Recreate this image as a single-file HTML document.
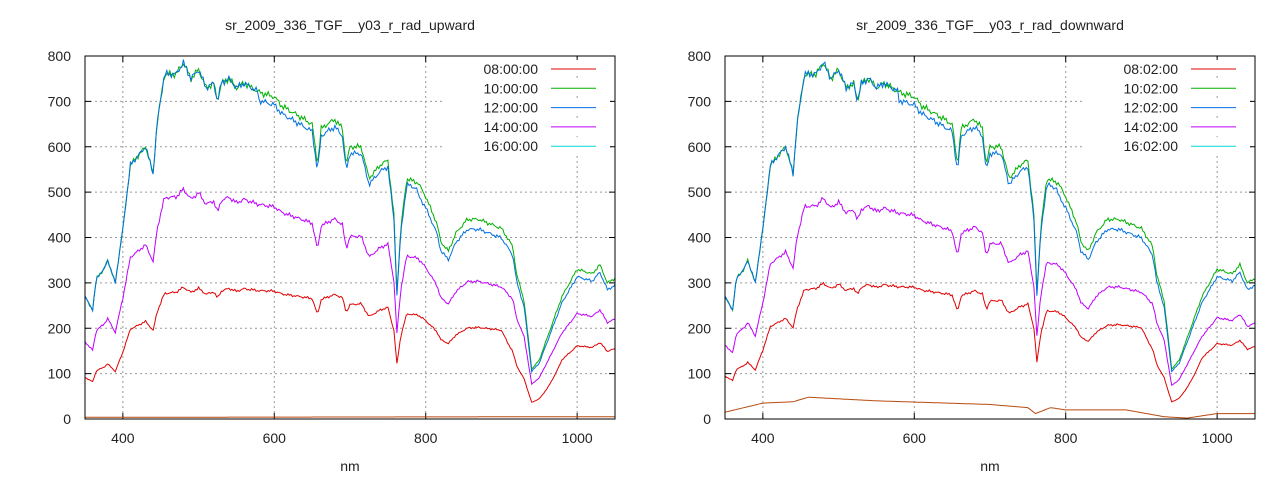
<!DOCTYPE html><html><head><meta charset="utf-8"><style>body{margin:0;background:#fff}svg{display:block;font-family:"Liberation Sans",sans-serif}</style></head><body>
<svg id="s" width="1280" height="480" xmlns="http://www.w3.org/2000/svg"></svg>
<script>
const S=document.getElementById('s');let h='';
const G=[[350,270],[360,240],[365,310],[375,330],[380,350],[390,300],[400,420],[410,560],[420,580],[430,600],[437,560],[440,540],[445,650],[455,760],[470,760],[480,785],[490,750],[500,770],[510,730],[520,740],[525,700],[530,740],[540,750],[550,730],[560,740],[580,720],[600,710],[610,690],[620,680],[640,660],[650,650],[657,560],[662,640],[670,650],[680,660],[690,640],[695,560],[700,600],[715,600],[725,530],[740,560],[750,570],[758,450],[762,280],[767,420],[775,530],[790,520],[800,490],[815,430],[820,390],[830,370],[840,410],[855,440],[870,440],[900,420],[915,380],[920,320],[930,260],[940,110],[950,130],[965,200],[980,270],[1000,330],[1020,320],[1030,340],[1040,300],[1050,310]];
function g(n){for(let i=0;i<G.length-1;i++){if(n<=G[i+1][0]){const t=(n-G[i][0])/(G[i+1][0]-G[i][0]);return G[i][1]+t*(G[i+1][1]-G[i][1]);}}return 310;}
function noise(n,k){return Math.sin(n*1.7+k)*0.006+Math.sin(n*0.53+k*2)*0.005;}
function bot(n,right){if(!right)return 3+n*0.002;const K=[[350,15],[400,35],[440,38],[460,48],[550,40],[700,32],[750,25],[760,12],[780,25],[800,20],[880,20],[930,5],[960,2],[1000,12],[1050,12]];for(let i=0;i<K.length-1;i++)if(n<=K[i+1][0]){const t=(n-K[i][0])/(K[i+1][0]-K[i][0]);return K[i][1]+t*(K[i+1][1]-K[i][1]);}return 12;}
function redf(n){let f=0.34+0.16*(n-350)/700;if(n>900&&n<980)f*=1-0.3*Math.sin((n-900)/80*Math.PI);return f;}
function panel(x0,title,lab,right){const W=530,H=363,y0=56;const X=n=>x0+(n-350)*W/700,Y=v=>y0+H-v*H/800;
h+=`<text x="${x0+265}" y="30" font-size="14" text-anchor="middle" fill="#222">${title}</text>`;
h+=`<text x="${x0+265}" y="471" font-size="14" text-anchor="middle" fill="#222">nm</text>`;
for(let v=0;v<=800;v+=100){const y=Y(v);if(v>0&&v<800)h+=`<line x1="${x0}" x2="${x0+W}" y1="${y}" y2="${y}" stroke="#999" stroke-dasharray="2,3"/>`;h+=`<line x1="${x0}" x2="${x0+6}" y1="${y}" y2="${y}" stroke="#000"/><line x1="${x0+W-6}" x2="${x0+W}" y1="${y}" y2="${y}" stroke="#000"/><text x="${x0-14}" y="${y+5}" font-size="14" text-anchor="end" fill="#222">${v}</text>`;}
for(let n=400;n<=1000;n+=200){const x=X(n);h+=`<line x1="${x}" x2="${x}" y1="${y0}" y2="${y0+H}" stroke="#999" stroke-dasharray="2,3"/><line x1="${x}" x2="${x}" y1="${y0+H}" y2="${y0+H-6}" stroke="#000"/><line x1="${x}" x2="${x}" y1="${y0}" y2="${y0+6}" stroke="#000"/><text x="${x}" y="${y0+H+24}" font-size="14" text-anchor="middle" fill="#222">${n}</text>`;}
const ser=[['#e00000',n=>g(n)*redf(n)*(right?1.03:1)],['#00b000',n=>g(n)],['#0070e0',n=>g(n)*(n<580?1:(n<790?0.975:0.95))],['#c000ff',n=>g(n)*(0.63+0.08*(n-350)/700)*(right?0.96:1)],['#b84a10',n=>bot(n,right)]];
ser.forEach((s,k)=>{let p=[];for(let n=350;n<=1050;n+=2){let v=s[1](n);if(k<4)v*=1+noise(n,k+(right?3:0));p.push(X(n).toFixed(1)+','+Y(Math.max(v,0)).toFixed(1));}h+=`<polyline points="${p.join(' ')}" fill="none" stroke="${s[0]}" stroke-width="1"/>`;});
const lc=['#e00000','#00b000','#0070e0','#c000ff','#00d8d8'];
lab.forEach((t,i)=>{const y=69+i*19.3;h+=`<rect x="${x0+360}" y="${y-9}" width="165" height="16" fill="#fff"/><text x="${x0+453}" y="${y+5}" font-size="14" text-anchor="end" fill="#222">${t}</text><line x1="${x0+466}" x2="${x0+511}" y1="${y}" y2="${y}" stroke="${lc[i]}"/>`;});
h+=`<rect x="${x0}" y="${y0}" width="${W}" height="${H}" fill="none" stroke="#000"/>`;}
panel(85,'sr_2009_336_TGF__y03_r_rad_upward',['08:00:00','10:00:00','12:00:00','14:00:00','16:00:00'],false);
panel(725,'sr_2009_336_TGF__y03_r_rad_downward',['08:02:00','10:02:00','12:02:00','14:02:00','16:02:00'],true);
S.innerHTML=h;
</script></body></html>
